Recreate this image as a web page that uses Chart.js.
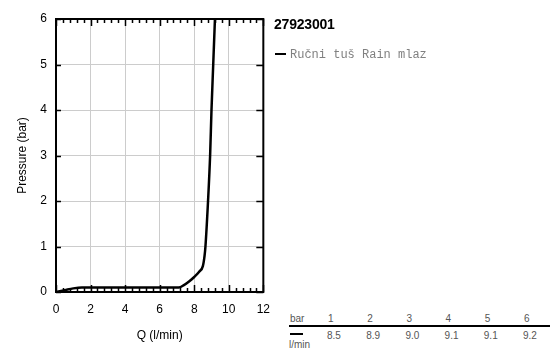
<!DOCTYPE html>
<html>
<head>
<meta charset="utf-8">
<script src="https://cdn.jsdelivr.net/npm/chart.js@4/dist/chart.umd.min.js"></script>
<style>
  body { margin: 0; background: #fff; font-family: "Liberation Sans", Arial, sans-serif; }
  #wrap { position: relative; width: 550px; height: 350px; overflow: hidden; }
  #chartBox { position: absolute; left: 0; top: 0; width: 280px; height: 350px; }
  #title { position: absolute; left: 274px; top: 16px; font-size: 14px; font-weight: bold; color: #000; letter-spacing: -0.2px; }
  #legend { position: absolute; left: 275px; top: 48px; font-family: "Liberation Mono", "Courier New", monospace; font-size: 12px; color: #808080; }
  #legend span.dash { display: inline-block; width: 11px; height: 2px; background: #000; vertical-align: middle; margin-right: 4px; position: relative; top: -1px; }
  .tbl { position: absolute; font-size: 10px; color: #555; }
  #tblLine { position: absolute; left: 289px; top: 325px; width: 261px; height: 2px; background: #000; }
  #tblDash { position: absolute; left: 290px; top: 333px; width: 13px; height: 2px; background: #000; }
</style>
</head>
<body>
<div id="wrap">
  <div id="chartBox"><canvas id="curve"></canvas></div>
  <div id="title">27923001</div>
  <div id="legend"><span class="dash"></span>Ručni tuš Rain mlaz</div>
  <div id="tblLine"></div>
  <div id="tblDash"></div>
</div>
<script>
// flow (l/min) vs pressure (bar)
const flow = [0, 0.5, 1, 1.5, 2, 4, 7.1, 7.4, 7.7, 8, 8.3, 8.5, 8.6, 8.65, 8.8, 8.92, 9.0, 9.1, 9.2];
const pressure = [0, 0.04, 0.08, 0.1, 0.1, 0.1, 0.1, 0.15, 0.23, 0.33, 0.45, 0.57, 0.8, 1, 2, 3, 4, 5, 6];

// table under the legend
const tableBar = [1, 2, 3, 4, 5, 6];
const tableFlow = ["8.5", "8.9", "9.0", "9.1", "9.1", "9.2"];

const xTicks = [0, 2, 4, 6, 8, 10, 12];
const yTicks = [0, 1, 2, 3, 4, 5, 6];

// build table text
const wrap = document.getElementById("wrap");
function addText(txt, x, y) {
  const d = document.createElement("div");
  d.className = "tbl";
  d.style.left = x + "px";
  d.style.top = y + "px";
  d.textContent = txt;
  wrap.appendChild(d);
}
addText("bar", 290, 313);
addText("l/min", 289, 339);
tableBar.forEach((b, i) => {
  addText(String(b), 328 + i * 39.2, 313);
  addText(tableFlow[i], 327 + i * 39.2, 330);
});

// inner ticks + frame
const frameTicks = {
  id: "frameTicks",
  afterDatasetsDraw(chart) {
    const c = chart.ctx;
    const a = chart.chartArea;
    const xs = chart.scales.x;
    const ys = chart.scales.y;
    c.save();
    c.strokeStyle = "#000";
    c.lineWidth = 1.5;
    c.beginPath();
    for (let v = 0; v <= 12.001; v += 0.4) {
      const px = Math.round(xs.getPixelForValue(v)) + 0.5;
      const major = Math.abs(v / 2 - Math.round(v / 2)) < 0.01;
      const len = major ? 7 : 4;
      c.moveTo(px, a.bottom);
      c.lineTo(px, a.bottom - len);
      c.moveTo(px, a.top);
      c.lineTo(px, a.top + len);
    }
    yTicks.forEach((v) => {
      const py = Math.round(ys.getPixelForValue(v)) + 0.5;
      c.moveTo(a.left, py);
      c.lineTo(a.left + 5, py);
      c.moveTo(a.right, py);
      c.lineTo(a.right - 7, py);
    });
    c.stroke();
    c.lineWidth = 2;
    c.strokeRect(a.left, a.top, a.right - a.left, a.bottom - a.top);
    c.restore();
  },
};

new Chart(document.getElementById("curve"), {
  type: "line",
  data: {
    datasets: [
      {
        label: "Ručni tuš Rain mlaz",
        data: flow.map((f, i) => ({ x: f, y: pressure[i] })),
        borderColor: "#000",
        borderWidth: 2.5,
        pointRadius: 0,
        cubicInterpolationMode: "monotone",
        fill: false,
      },
    ],
  },
  options: {
    responsive: true,
    maintainAspectRatio: false,
    animation: false,
    layout: { padding: { top: 19, right: 13, left: 0, bottom: 0 } },
    plugins: {
      legend: { display: false },
      tooltip: { enabled: false },
    },
    scales: {
      x: {
        type: "linear",
        min: 0,
        max: 12,
        afterBuildTicks: (s) => { s.ticks = xTicks.map((v) => ({ value: v })); },
        afterFit: (s) => { s.height = 58; },
        grid: { color: "#cccccc", lineWidth: 1, drawTicks: false },
        border: { display: false },
        ticks: { padding: 10, color: "#000", font: { family: "Liberation Sans", size: 12 } },
        title: {
          display: true,
          text: "Q (l/min)",
          color: "#000",
          font: { family: "Liberation Sans", size: 12 },
          padding: { top: 0, bottom: 7 },
        },
      },
      y: {
        type: "linear",
        min: 0,
        max: 6,
        afterBuildTicks: (s) => { s.ticks = yTicks.map((v) => ({ value: v })); },
        afterFit: (s) => { s.width = 56; },
        grid: { color: "#cccccc", lineWidth: 1, drawTicks: false },
        border: { display: false },
        ticks: { padding: 9, color: "#000", font: { family: "Liberation Sans", size: 12 } },
        title: {
          display: true,
          text: "Pressure (bar)",
          color: "#000",
          font: { family: "Liberation Sans", size: 12 },
          padding: { top: 15, bottom: 0 },
        },
      },
    },
  },
  plugins: [frameTicks],
});
</script>
</body>
</html>
